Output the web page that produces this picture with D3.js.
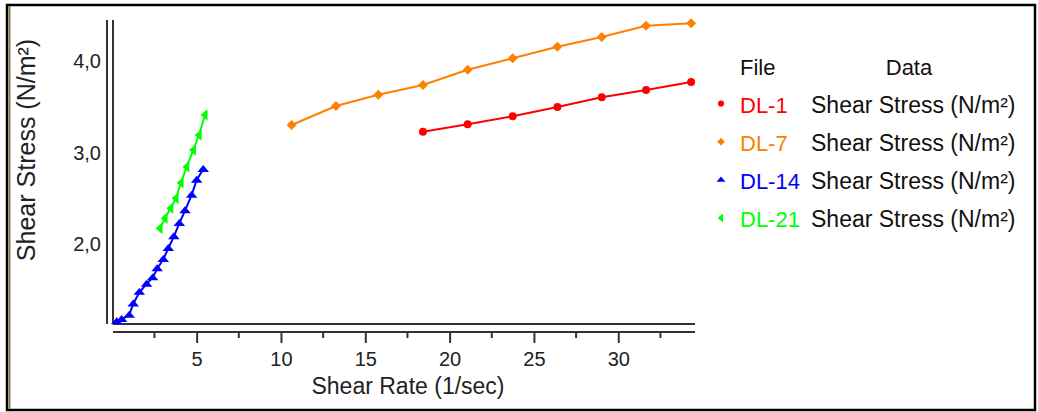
<!DOCTYPE html>
<html>
<head>
<meta charset="utf-8">
<script src="https://cdn.jsdelivr.net/npm/d3@7"></script>
<style>
  html, body { margin: 0; padding: 0; background: #fff; }
  svg { display: block; font-family: "Liberation Sans", Arial, sans-serif; }
</style>
</head>
<body>
<svg id="chart" width="1038" height="412"></svg>
<script>
// Shear rate (1/sec) and shear stress (N/m²) per sample file
const dl1Rate   = [18.42, 21.07, 23.74, 26.39, 29.02, 31.65, 34.32];
const dl1Stress = [3.229, 3.309, 3.397, 3.499, 3.605, 3.684, 3.772];

const dl7Rate   = [10.63, 13.26, 15.77, 18.42, 21.07, 23.74, 26.39, 29.02, 31.65, 34.32];
const dl7Stress = [3.302, 3.510, 3.633, 3.739, 3.906, 4.031, 4.158, 4.264, 4.388, 4.414];

const dl14Rate   = [0.26, 0.55, 1.00, 1.24, 1.60, 2.03, 2.39, 2.66, 3.02, 3.32, 3.65, 3.97, 4.31, 4.70, 5.00, 5.39];
const dl14Stress = [1.151, 1.177, 1.224, 1.345, 1.473, 1.563, 1.632, 1.731, 1.833, 1.954, 2.081, 2.227, 2.365, 2.536, 2.700, 2.817];

const dl21Rate   = [2.82, 3.12, 3.46, 3.77, 4.07, 4.41, 4.80, 5.14, 5.49];
const dl21Stress = [2.172, 2.282, 2.391, 2.500, 2.671, 2.846, 3.029, 3.192, 3.411];

const fileNames  = ["DL-1", "DL-7", "DL-14", "DL-21"];
const dataLabel  = "Shear Stress (N/m²)";
const xTicks     = [5, 10, 15, 20, 25, 30];
const xMinor     = [2.5, 7.5, 12.5, 17.5, 22.5, 27.5, 32.5];
const yTicks     = [2.0, 3.0, 4.0];

const colors = ["#ff0000", "#ff8000", "#0000ff", "#00ff00"];

// Marker shapes
const diamond = { draw(ctx, size) { const r = Math.sqrt(size / 2); ctx.moveTo(0, -r); ctx.lineTo(r, 0); ctx.lineTo(0, r); ctx.lineTo(-r, 0); ctx.closePath(); } };
const triUp   = { draw(ctx, size) { const w = Math.sqrt(size * 2.8) / 2, h = w * 0.75; ctx.moveTo(0, -h); ctx.lineTo(w, h * 0.6); ctx.lineTo(-w, h * 0.6); ctx.closePath(); } };
const triLeft = { draw(ctx, size) { const w = Math.sqrt(size * 2.8) / 2, h = w * 0.75; ctx.moveTo(-h, 0); ctx.lineTo(h * 0.6, -w); ctx.lineTo(h * 0.6, w); ctx.closePath(); } };
const shapes = [d3.symbolCircle, diamond, triUp, triLeft];
const sizes  = [50, 50, 48, 48];
const legendSizes = [30, 30, 28, 28];

const series = [
  { rate: dl1Rate,  stress: dl1Stress },
  { rate: dl7Rate,  stress: dl7Stress },
  { rate: dl14Rate, stress: dl14Stress },
  { rate: dl21Rate, stress: dl21Stress }
].map((s, i) => ({ name: fileNames[i], color: colors[i], shape: shapes[i], size: sizes[i],
                   pts: s.rate.map((r, k) => [r, s.stress[k]]) }));

const svg = d3.select("#chart");

// Outer frame
svg.append("rect").attr("x", 7).attr("y", 5).attr("width", 1028).attr("height", 405)
  .attr("fill", "#fff").attr("stroke", "#000").attr("stroke-width", 2.5);
svg.append("line").attr("x1", 9.5).attr("x2", 9.5).attr("y1", 6).attr("y2", 409)
  .attr("stroke", "#8a7a48").attr("stroke-width", 2);

const plot = { left: 113, right: 695, top: 20, bottom: 324 };
const x = d3.scaleLinear().domain([0.04, 34.55]).range([plot.left, plot.right]);
const y = d3.scaleLinear().domain([1.126, 4.45]).range([plot.bottom, plot.top]);

const axisColor = "#333";

// Double vertical axis line
svg.append("line").attr("x1", 107).attr("x2", 107).attr("y1", plot.top).attr("y2", plot.bottom)
  .attr("stroke", axisColor).attr("stroke-width", 2);
svg.append("line").attr("x1", plot.left).attr("x2", plot.left).attr("y1", plot.top).attr("y2", plot.bottom)
  .attr("stroke", axisColor).attr("stroke-width", 2);
// Plot baseline
svg.append("line").attr("x1", plot.left).attr("x2", plot.right).attr("y1", plot.bottom).attr("y2", plot.bottom)
  .attr("stroke", axisColor).attr("stroke-width", 2);

// X axis with major and minor ticks
const xAxisY = 332;
const xAxis = svg.append("g").attr("transform", `translate(0,${xAxisY})`)
  .call(d3.axisBottom(x).tickValues(xTicks).tickSize(11).tickPadding(9).tickFormat(d3.format("d")));
xAxis.select(".domain").remove();
svg.append("line").attr("x1", plot.left).attr("x2", plot.right).attr("y1", xAxisY).attr("y2", xAxisY)
  .attr("stroke", axisColor).attr("stroke-width", 2);
xAxis.selectAll(".tick line").attr("stroke", axisColor).attr("stroke-width", 2);
xAxis.selectAll(".tick text").attr("font-size", 20).attr("fill", "#222")
  .attr("font-family", "'Liberation Sans', Arial, sans-serif");
svg.append("g").selectAll("line").data(xMinor).join("line")
  .attr("x1", d => x(d)).attr("x2", d => x(d)).attr("y1", xAxisY).attr("y2", xAxisY + 6)
  .attr("stroke", axisColor).attr("stroke-width", 2);

// Y axis labels (comma decimal)
const yAxis = svg.append("g").attr("transform", "translate(107,0)")
  .call(d3.axisLeft(y).tickValues(yTicks).tickSize(0).tickPadding(6)
    .tickFormat(d => d3.format(".1f")(d).replace(".", ",")));
yAxis.select(".domain").remove();
yAxis.selectAll(".tick text").attr("font-size", 20).attr("fill", "#222")
  .attr("font-family", "'Liberation Sans', Arial, sans-serif");

// Axis titles
svg.append("text").attr("x", 408).attr("y", 394).attr("text-anchor", "middle")
  .attr("font-size", 23).attr("fill", "#222").text("Shear Rate (1/sec)");
svg.append("text").attr("transform", "translate(35,150) rotate(-90)").attr("text-anchor", "middle")
  .attr("font-size", 25).attr("fill", "#222").text("Shear Stress (N/m²)");

// Series lines and markers
const line = d3.line().x(d => x(d[0])).y(d => y(d[1]));
const g = svg.append("g");
series.forEach(s => {
  g.append("path").datum(s.pts).attr("d", line).attr("fill", "none")
    .attr("stroke", s.color).attr("stroke-width", 2);
  g.append("g").selectAll("path").data(s.pts).join("path")
    .attr("transform", d => `translate(${x(d[0])},${y(d[1])})`)
    .attr("d", d3.symbol().type(s.shape).size(s.size)).attr("fill", s.color);
});

// Legend
const legend = svg.append("g");
legend.append("text").attr("x", 740).attr("y", 75).attr("font-size", 22).attr("fill", "#111").text("File");
legend.append("text").attr("x", 909).attr("y", 75).attr("text-anchor", "middle").attr("font-size", 22).attr("fill", "#111").text("Data");
const rowY = d3.scalePoint().domain(fileNames).range([112.5, 227]);
series.forEach((s, i) => {
  const by = rowY(s.name);
  legend.append("path").attr("transform", `translate(721,${by - 9})`)
    .attr("d", d3.symbol().type(s.shape).size(legendSizes[i])).attr("fill", s.color);
  legend.append("text").attr("x", 740).attr("y", by).attr("font-size", 22).attr("fill", s.color).text(s.name);
  legend.append("text").attr("x", 811).attr("y", by).attr("font-size", 23).attr("fill", "#111").text(dataLabel);
});
</script>
</body>
</html>
